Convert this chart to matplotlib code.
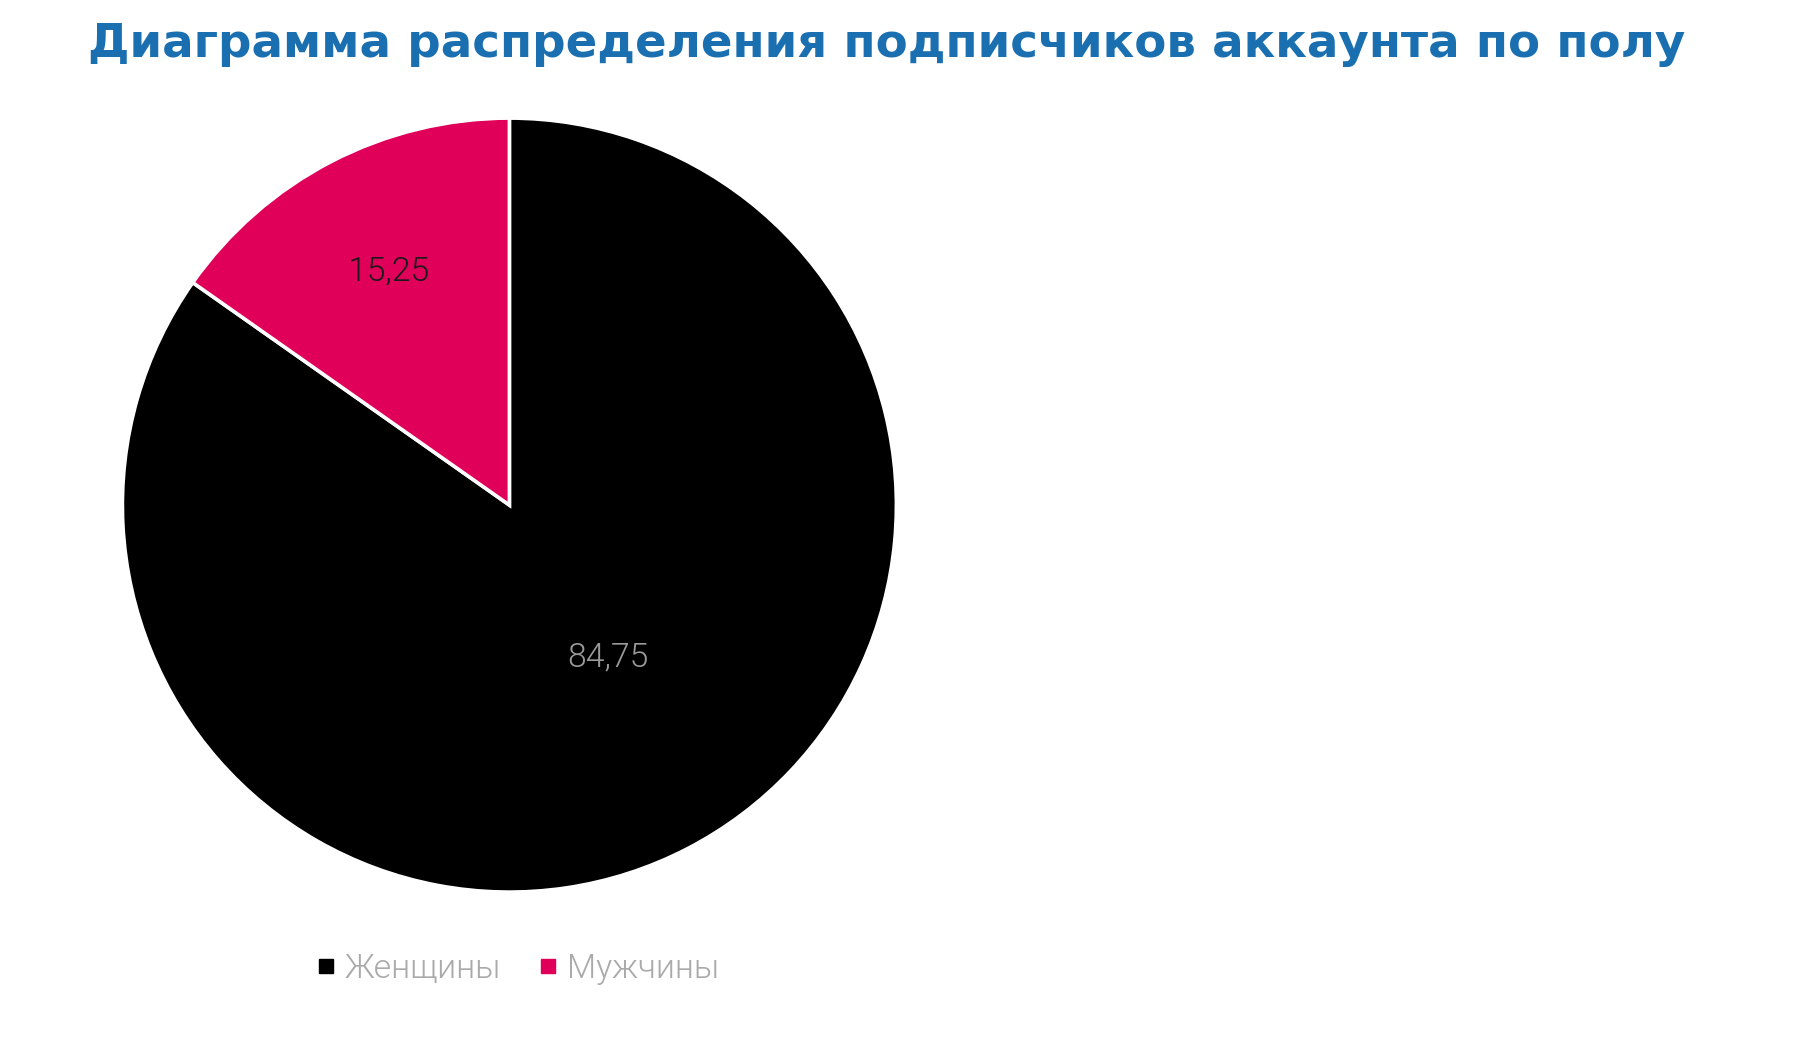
import numpy as np
import matplotlib
matplotlib.use('Agg')
import matplotlib.pyplot as plt
from matplotlib.lines import Line2D

# data
labels = ['Женщины', 'Мужчины']
values = [84.75, 15.25]
value_text = ['84,75', '15,25']
colors = ['#000000', '#e0005a']
label_colors = ['#9a9a9a', '#1a1a1a']
label_dist = [0.47, 0.68]
label_shift = [5.5, 0.0]  # degrees, labels not exactly on the wedge middle

title = 'Диаграмма распределения подписчиков аккаунта по полу'

fig = plt.figure(figsize=(18, 10.62), dpi=100)
ax = fig.add_axes([0.0680, 0.160, 0.43, 0.7288])

wedges, _ = ax.pie(values, colors=colors, startangle=90, counterclock=False,
                   wedgeprops=dict(edgecolor='white', linewidth=2.6))
ax.set_xlim(-1, 1)
ax.set_ylim(-1, 1)
ax.set_aspect('equal')

for w, txt, c, d, s in zip(wedges, value_text, label_colors, label_dist, label_shift):
    ang = np.deg2rad((w.theta1 + w.theta2) / 2 + s)
    ax.text(d * np.cos(ang), d * np.sin(ang), txt, ha='center', va='center',
            fontsize=24.3, color=c, family='Roboto', fontweight=300)

fig.text(0.4928, 0.958, title, ha='center', va='center', fontsize=33.65,
         fontweight='bold', color='#1a6fb0', family='DejaVu Sans')

handles = [Line2D([], [], marker='s', linestyle='', markersize=10.5,
                  markerfacecolor=c, markeredgecolor=c) for c in colors]
leg = fig.legend(handles, labels, loc='center', bbox_to_anchor=(0.2865, 0.088),
                 ncol=2, frameon=False, handlelength=0.8, handletextpad=0.15,
                 columnspacing=1.0,
                 prop=dict(family='Roboto', weight=300, size=24.3))
for t in leg.get_texts():
    t.set_color('#aaaaaa')

fig.savefig('out.png', dpi=100, facecolor='white')
